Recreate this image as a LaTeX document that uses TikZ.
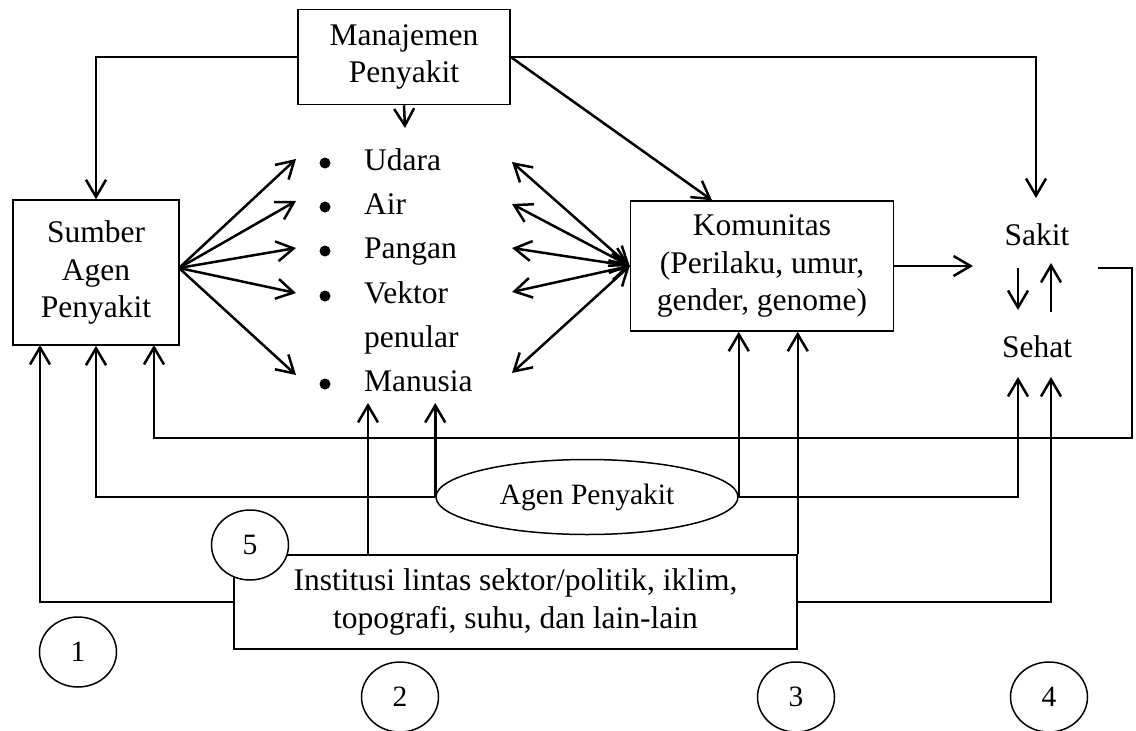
\documentclass[tikz,border=0pt]{standalone}
\usepackage{fontspec}
\setmainfont{Liberation Serif}
\usetikzlibrary{arrows.meta,shapes.geometric}
\begin{document}
\begin{tikzpicture}[x=1pt,y=-1pt,
  bigtxt/.style={font=\fontsize{31.5}{37.5}\selectfont},
  smalltxt/.style={font=\fontsize{29.5}{35}\selectfont},
  box/.style={draw, line width=1.5pt, align=center, inner sep=0pt, bigtxt},
  numcirc/.style={draw, ellipse, fill=white, line width=1.5pt, minimum width=77pt, minimum height=70pt, inner sep=0pt, smalltxt},
  itemtxt/.style={anchor=base west, inner sep=0pt, bigtxt},
  conn/.style={line width=2.5pt, -{Straight Barb[length=17pt,width=20pt]}},
  dconn/.style={line width=2.5pt, {Straight Barb[length=17pt,width=20pt]}-{Straight Barb[length=17pt,width=20pt]}},
  plain/.style={line width=2.5pt}
]
\useasboundingbox (0,0) rectangle (1136,731);
\clip (0,0) rectangle (1136,731);

% main boxes
\node[box, minimum width=212pt, minimum height=95pt] (man) at (404,57) {Manajemen\\Penyakit};
\node[box, minimum width=166pt, minimum height=145pt] (sum) at (96,272.5) {Sumber\\Agen\\Penyakit};
\node[box, minimum width=263pt, minimum height=130pt] (kom) at (762,266) {Komunitas\\(Perilaku, umur,\\gender, genome)};
\node[box, minimum width=563pt, minimum height=94pt] (inst) at (515.5,602) {Institusi lintas sektor/politik, iklim,\\topografi, suhu, dan lain-lain};
\node[draw, ellipse, line width=1.5pt, minimum width=302pt, minimum height=75pt, inner sep=0pt, smalltxt] (agen) at (587,497) {Agen Penyakit};

% list items
\node[itemtxt] (udara) at (364,170) {Udara};
\node[itemtxt] (air) at (364,214) {Air};
\node[itemtxt] (pangan) at (364,258) {Pangan};
\node[itemtxt] (vektor) at (364,303) {Vektor};
\node[itemtxt] (penular) at (364,347) {penular};
\node[itemtxt] (manusia) at (364,391) {Manusia};
\foreach \yy in {163,207,251,296,384} \fill (325,\yy) circle (5.5pt);

% health states
\node[bigtxt, inner sep=0pt] (sakit) at (1037,235) {Sakit};
\node[bigtxt, inner sep=0pt] (sehat) at (1037,347) {Sehat};

% coordinates for free ends
\coordinate (manD) at (405,128);
\coordinate (sakitTop) at (1036,198);
\coordinate (sumR) at (179,268);
\coordinate (l1) at (296,159);
\coordinate (l2) at (296,201);
\coordinate (l3) at (296,248);
\coordinate (l4) at (296,293);
\coordinate (l5) at (296,375);
\coordinate (r1) at (512,162);
\coordinate (r2) at (512,204);
\coordinate (r3) at (512,248);
\coordinate (r4) at (512,292);
\coordinate (r5) at (512,373);
\coordinate (komR) at (973,266);
\coordinate (downS) at (1018,268);
\coordinate (downE) at (1018,310);
\coordinate (upS) at (1051,312);
\coordinate (upE) at (1051,263);
\coordinate (retS) at (1098,268);
\coordinate (retC1) at (1132,268);
\coordinate (retC2) at (1132,438);
\coordinate (sumB1) at (40,345);
\coordinate (sumB3) at (154,345);
\coordinate (manuL) at (368,403);
\coordinate (manuR) at (434,403);
\coordinate (sehL) at (1018,377);
\coordinate (sehR) at (1051,377);

% connectors from Manajemen
\draw[conn] (man.west) -| (sum.north);
\draw[conn] (man.south) -- (manD);
\draw[conn] (man.east) -| (sakitTop);
\draw[conn] (man.east) -- ([xshift=-50pt]kom.north);

% Sumber to list
\foreach \t in {l1,l2,l3,l4,l5} \draw[conn] (sumR) -- (\t);
% Komunitas to list
\foreach \t in {r1,r2,r3,r4,r5} \draw[dconn] (kom.west) -- (\t);

% Komunitas to Sakit
\draw[conn] (kom.east) -- (komR);
\draw[conn] (downS) -- (downE);
\draw[conn] (upS) -- (upE);

% return line
\draw[conn] (retS) -- (retC1) -- (retC2) -| (sumB3);

% Agen Penyakit
\draw[conn] (agen.west) -| (sum.south);
\draw[conn] (agen.west) -- (agen.west |- manuR);
\draw[conn] (agen.east) -| (sehL);
\draw[conn] (agen.east) -- (agen.east |- kom.south);

% Institusi
\draw[conn] (inst.north -| manuL) -- (manuL);
\draw[conn] (inst.north east) -- (inst.north east |- kom.south);
\draw[conn] (inst.west) -| (sumB1);
\draw[conn] (inst.east) -| (sehR);

% numbered circles
\node[numcirc] (c5) at (250,545) {5};
\node[numcirc] (c1) at (78,652) {1};
\node[numcirc] (c2) at (400,697) {2};
\node[numcirc] (c3) at (796,697) {3};
\node[numcirc] (c4) at (1049,697) {4};
\end{tikzpicture}
\end{document}
